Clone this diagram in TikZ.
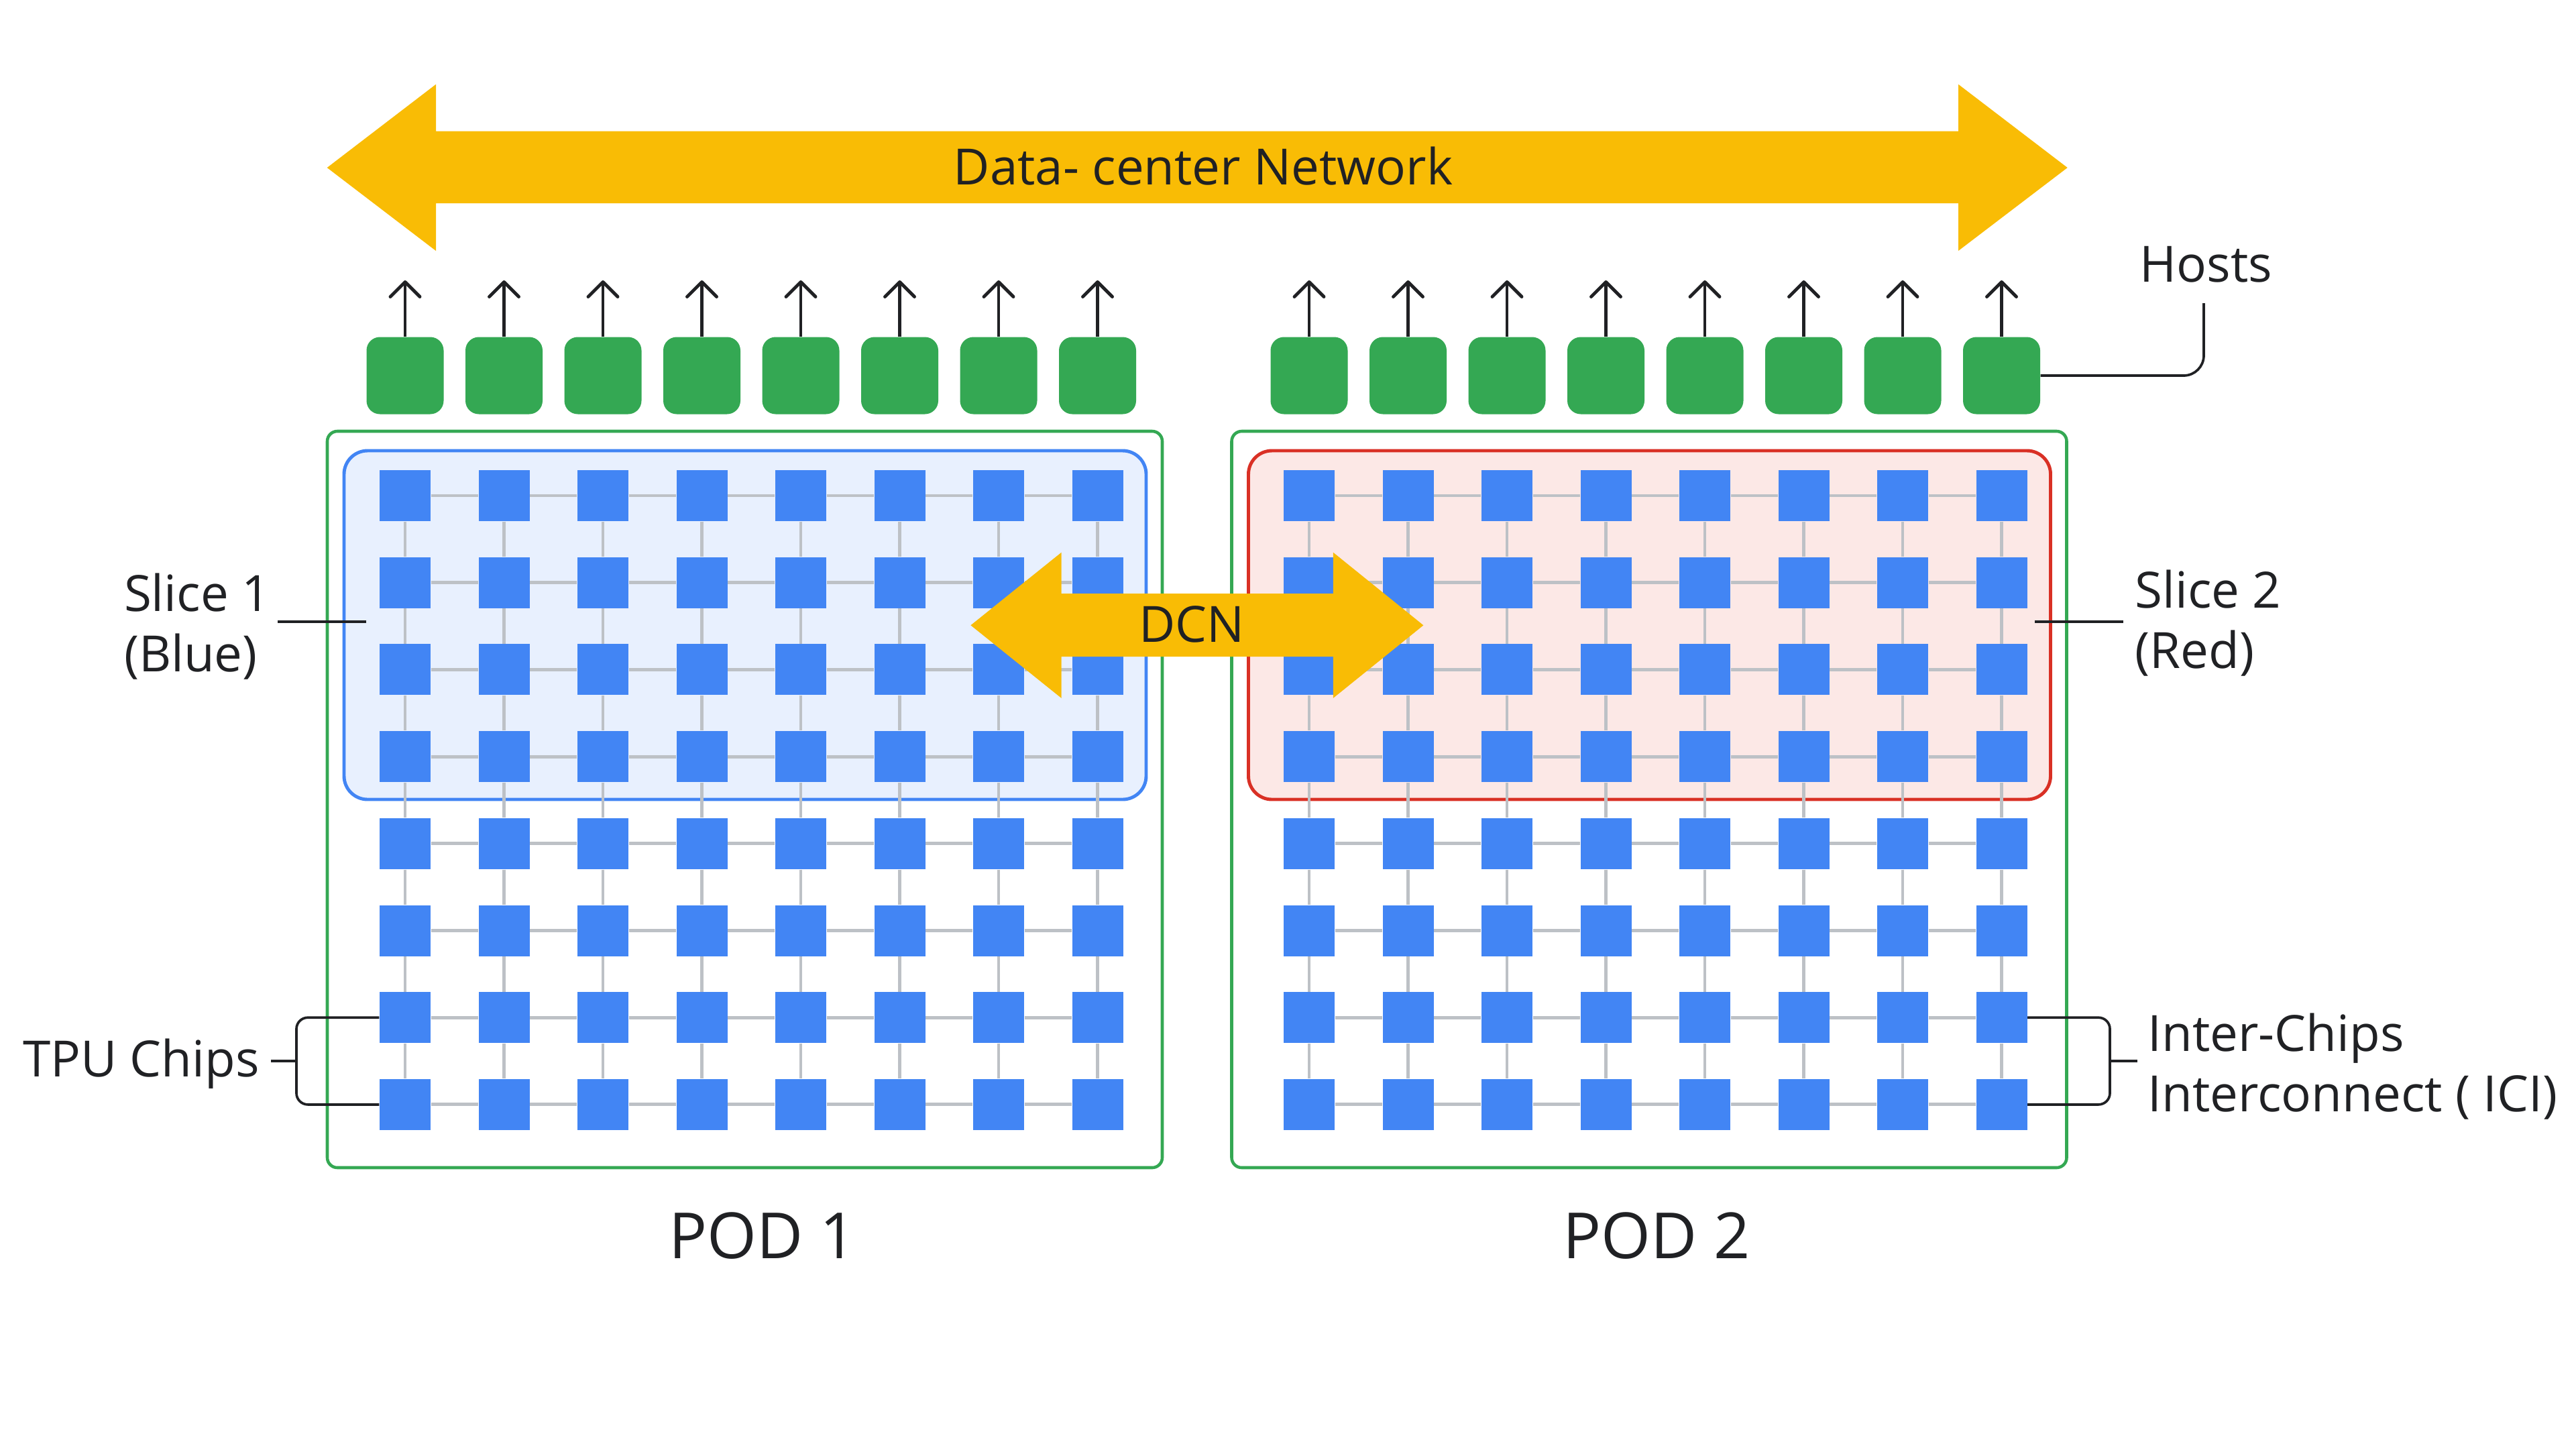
\documentclass[tikz,border=0pt]{standalone}
\usepackage{fontspec}
\setmainfont{Open Sans}
\usetikzlibrary{arrows.meta}
\definecolor{netyellow}{HTML}{F9BC05}
\definecolor{hostgreen}{HTML}{34A853}
\definecolor{chipblue}{HTML}{4285F4}
\definecolor{slicebluefill}{HTML}{E8F0FE}
\definecolor{slicered}{HTML}{D93025}
\definecolor{sliceredfill}{HTML}{FCE8E6}
\definecolor{gridgray}{HTML}{BDC1C6}
\definecolor{inkgray}{HTML}{202124}
\tikzset{
  chip/.style={fill=chipblue, minimum size=0.76cm, inner sep=0pt},
  host/.style={fill=hostgreen, rounded corners=0.2cm, minimum size=1.15cm, inner sep=0pt},
  podbox/.style={draw=hostgreen, line width=1.3pt, rounded corners=0.15cm, minimum width=12.45cm, minimum height=10.98cm, inner sep=0pt},
  slicebox/.style={line width=1.4pt, rounded corners=0.35cm, minimum width=11.96cm, minimum height=5.2cm, inner sep=0pt},
  ici/.style={draw=gridgray, line width=1.4pt},
  hostarrow/.style={-{Straight Barb[length=0.22cm, width=0.44cm, round]}, line width=1.4pt, draw=inkgray},
  leader/.style={draw=inkgray, line width=1.05pt},
  lbl/.style={font=\fontsize{21.2}{25.6}\selectfont, text=inkgray, inner sep=0pt, align=left},
  podlbl/.style={font=\fontsize{27}{32}\selectfont, text=inkgray, inner sep=0pt}
}
\begin{document}
\begin{tikzpicture}
  \useasboundingbox (0,0) rectangle (38.41,-21.61);

  % pods and slices
  \node[podbox] (pod1) at (11.105,-11.92) {};
  \node[podbox] (pod2) at (24.59,-11.92) {};
  \node[slicebox, draw=chipblue, fill=slicebluefill] (slice1) at (11.11,-9.32) {};
  \node[slicebox, draw=slicered, fill=sliceredfill] (slice2) at (24.595,-9.32) {};

  % chips, hosts
  \foreach \p/\xo in {1/6.04, 2/19.52} {
    \foreach \r in {1,...,8} {
      \foreach \c in {1,...,8} {
        \node[chip] (c\p-\r-\c) at ({\xo+(\c-1)*1.475},{-7.39-(\r-1)*1.297}) {};
      }
    }
    \foreach \c in {1,...,8} {
      \node[host] (h\p-\c) at ({\xo+(\c-1)*1.475},-5.60) {};
      \coordinate (hu\p-\c) at ({\xo+(\c-1)*1.475},-4.18);
      \draw[hostarrow] (h\p-\c) -- (hu\p-\c);
    }
  }

  % ICI links
  \foreach \p in {1,2} {
    \foreach \r in {1,...,8} {
      \foreach \c in {1,...,7} {
        \pgfmathtruncatemacro\n{\c+1}
        \draw[ici] (c\p-\r-\c) -- (c\p-\r-\n);
        \draw[ici] (c\p-\c-\r) -- (c\p-\n-\r);
      }
    }
  }

  % data-center network
  \fill[netyellow] (4.877,-2.50) -- (6.50,-1.257) -- (6.50,-1.957) -- (29.20,-1.957)
    -- (29.20,-1.257) -- (30.827,-2.50) -- (29.20,-3.74) -- (29.20,-3.03)
    -- (6.50,-3.03) -- (6.50,-3.74) -- cycle;
  \node[lbl, anchor=base] (dcnettxt) at (17.94,-2.75) {Data- center Network};

  % labels
  \node[lbl, anchor=base west] (hosttxt) at (31.90,-4.207) {Hosts};
  \coordinate (hostsend) at (32.86,-4.52);
  \draw[leader, rounded corners=0.3cm] (h2-8) -| (hostsend);

  \node[lbl, anchor=base west] (sl1txt) at (1.843,-10.017) {Slice 1\\(Blue)};
  \coordinate (s1a) at (4.14,-9.27);
  \coordinate (s1b) at (5.457,-9.27);
  \draw[leader] (s1a) -- (s1b);

  \node[lbl, anchor=base west] (sl2txt) at (31.83,-9.96) {Slice 2\\(Red)};
  \coordinate (s2a) at (30.34,-9.27);
  \coordinate (s2b) at (31.657,-9.27);
  \draw[leader] (s2a) -- (s2b);

  \node[lbl, anchor=base east] (tputxt) at (3.875,-16.05) {TPU Chips};
  \coordinate (tpuknee) at (4.42,-15.82);
  \coordinate (tpustub) at (4.04,-15.82);
  \draw[leader, rounded corners=0.17cm] (c1-7-1) -| (tpuknee) |- (c1-8-1);
  \draw[leader] (tpustub) -- (tpuknee);

  \node[lbl, anchor=base west] (icitxt) at (32.02,-16.577) {Inter-Chips\\Interconnect ( ICI)};
  \coordinate (iciknee) at (31.46,-15.82);
  \coordinate (icistub) at (31.87,-15.82);
  \draw[leader, rounded corners=0.17cm] (c2-7-8) -| (iciknee) |- (c2-8-8);
  \draw[leader] (iciknee) -- (icistub);

  \node[podlbl, anchor=base] (pod1txt) at (11.37,-18.76) {POD 1};
  \node[podlbl, anchor=base] (pod2txt) at (24.70,-18.76) {POD 2};

  % DCN between slices
  \fill[netyellow] (14.474,-9.323) -- (15.827,-8.236) -- (15.827,-8.85) -- (19.878,-8.85)
    -- (19.878,-8.236) -- (21.224,-9.323) -- (19.878,-10.41) -- (19.878,-9.79)
    -- (15.827,-9.79) -- (15.827,-10.41) -- cycle;
  \node[lbl, anchor=base] (dcntxt) at (17.77,-9.577) {DCN};
\end{tikzpicture}
\end{document}
